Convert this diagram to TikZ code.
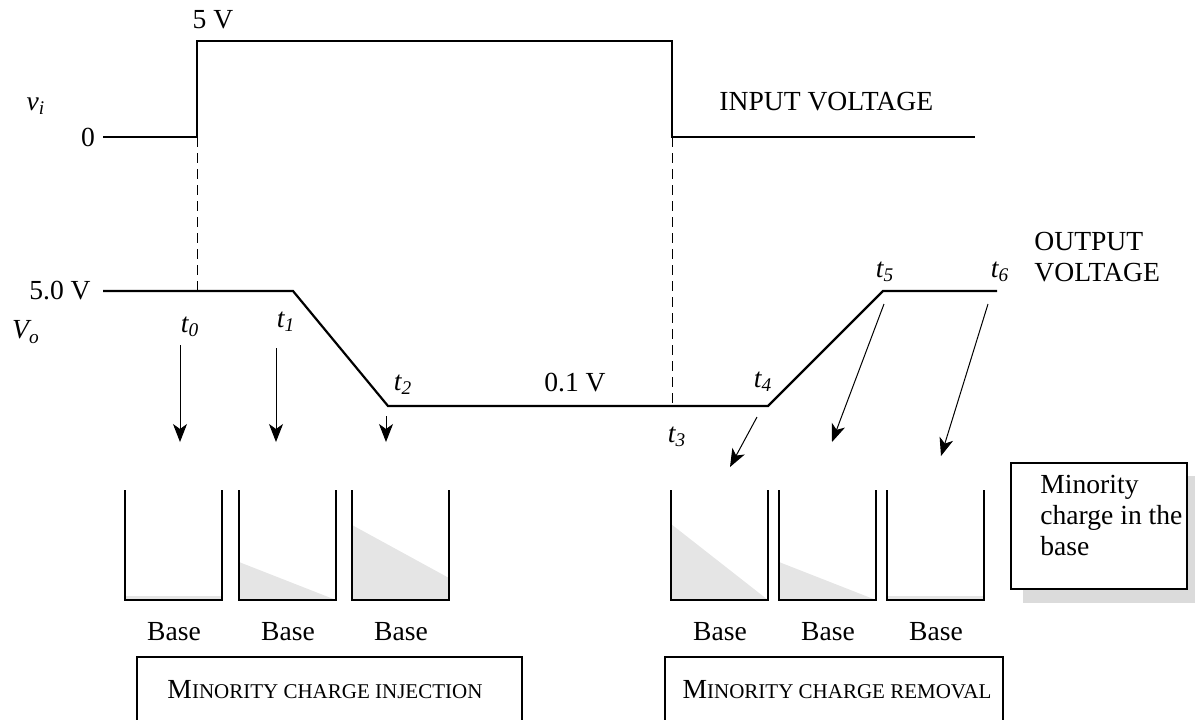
\documentclass[tikz,border=0pt]{standalone}
\usepackage{fontspec}
\setmainfont{Liberation Serif}
\usetikzlibrary{arrows.meta}
\newcommand{\fakesc}[2]{#1{\fontsize{10.5}{12}\selectfont #2}}

\begin{document}
\begin{tikzpicture}[x=0.5pt,y=-0.5pt,font=\fontsize{13.8}{15.5}\selectfont]
    \tikzstyle{wave}=[line width=1.1pt]
    \tikzstyle{guide}=[line width=0.4pt,dash pattern=on 5pt off 3pt]
    \tikzstyle{charge}=[-{Stealth[length=9pt,width=7pt,inset=2.5pt]},line width=0.5pt]
    \tikzstyle{well}=[line width=1.1pt]
    \tikzstyle{lbl}=[inner sep=1pt]
    \useasboundingbox (0,0) rectangle (1195,719);
    % input voltage
    \draw[wave] (103,137) -- (197,137) -- (197,41) -- (672,41) -- (672,137) -- (975,137);
    \node[lbl] (five) at (213,20) {5 V};
    \node[lbl] (vi) at (36,106) {\textit{v\textsubscript{i}}};
    \node[lbl] (zero) at (88,137) {0};
    \node[lbl,anchor=west] (inp) at (717,102) {INPUT VOLTAGE};
    % output voltage
    \draw[wave] (103,291) -- (293,291) -- (388,406) -- (768,406) -- (883,291) -- (997,291);
    \draw[guide] (197,137) -- (197,291);
    \draw[guide] (672,137) -- (672,406);
    \node[lbl] (fivev) at (60,291) {5.0 V};
    \node[lbl] (vo) at (26,332) {\textit{V\textsubscript{o}}};
    \node[lbl,anchor=west,align=left] (outp) at (1032,257) {OUTPUT\\VOLTAGE};
    \node[lbl] (low) at (575,383) {0.1 V};
    \foreach \n/\x/\y in {0/190/327,1/286/322,2/403/385,3/677/437,4/763/382,5/885/272,6/1000/272}
      \node[lbl] (t\n) at (\x,\y) {\textit{t\textsubscript{\n}}};
    % arrows to the wells
    \foreach \n/\a/\b/\c/\d in {0/180/345/180/442,1/276/348/276/442,2/386/416/386/442,
                                4/757/417/730/467,5/884/304/832/442,6/988/304/941/456}{
      \coordinate (s\n) at (\a,\b);
      \coordinate (e\n) at (\c,\d);
      \draw[charge] (s\n) -- (e\n);
    }
    % the wells with minority charge
    \foreach \i/\x/\l/\r in {1/125/596/596,2/239/562/600,3/352/525/578,
                             4/671/524/600,5/779/562/600,6/887/596/596}{
      \fill[black!10] (\x,\l) -- (\x+97,\r) -- (\x+97,600) -- (\x,600) -- cycle;
      \draw[well] (\x,490) -- (\x,600) -- (\x+97,600) -- (\x+97,490);
      \node[lbl] (b\i) at (\x+49,632) {Base};
    }
    % legend
    \fill[black!14] (1023,476) rectangle (1199,603);
    \draw[well,fill=white] (1011,463) rectangle (1187,589);
    \node[lbl,anchor=north west,align=left] (leg) at (1038,473) {Minority\\charge in the\\base};
    % phases
    \draw[well] (137,730) -- (137,657) -- (522,657) -- (522,730);
    \node[lbl] (inj) at (325,690) {\fakesc{M}{INORITY CHARGE INJECTION}};
    \draw[well] (665,730) -- (665,657) -- (1003,657) -- (1003,730);
    \node[lbl] (rem) at (837,690) {\fakesc{M}{INORITY CHARGE REMOVAL}};
\end{tikzpicture}
\end{document}
